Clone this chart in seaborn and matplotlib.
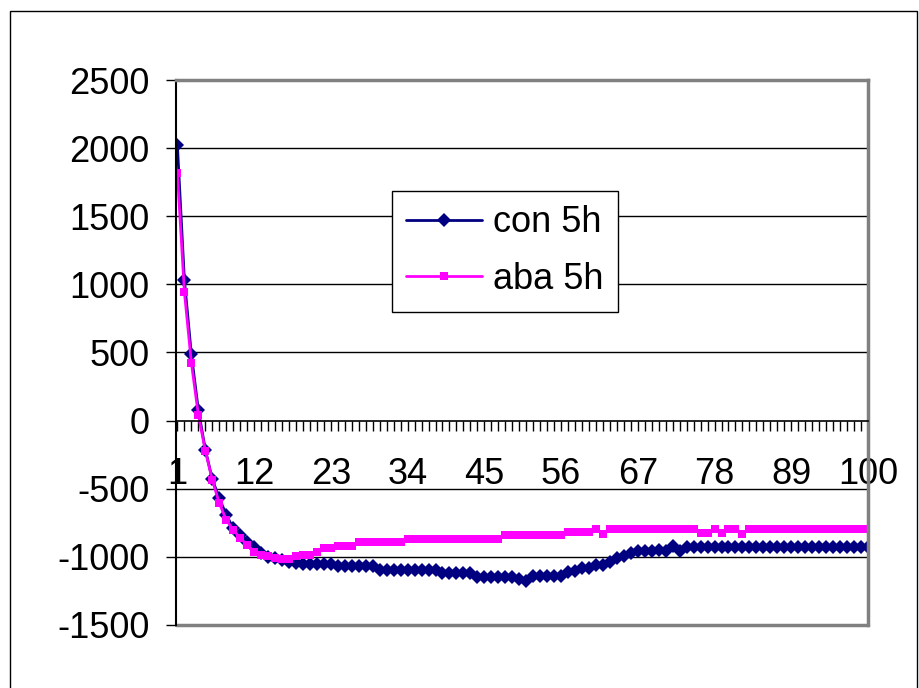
import matplotlib
matplotlib.use("Agg")
import matplotlib.pyplot as plt
from matplotlib.patches import Rectangle
from matplotlib.ticker import FixedLocator, MultipleLocator
import seaborn as sns
import pandas as pd

# ---- data ----
points = list(range(1, 101))
con_5h = [2020, 1035, 487, 80, -212, -430, -570, -690, -790, -840,
          -888, -925, -973, -998, -1010, -1022, -1040, -1047, -1050, -1050,
          -1050, -1050, -1050, -1068, -1068, -1068, -1068, -1068, -1068, -1098,
          -1098, -1098, -1098, -1098, -1098, -1098, -1098, -1098, -1115, -1115,
          -1115, -1115, -1115, -1145, -1145, -1145, -1145, -1145, -1145, -1165,
          -1178, -1140, -1140, -1140, -1140, -1140, -1110, -1100, -1085, -1085,
          -1060, -1060, -1035, -1010, -995, -975, -960, -955, -955, -952,
          -955, -920, -955, -925, -925, -925, -925, -925, -925, -925,
          -925, -925, -925, -925, -925, -925, -925, -925, -925, -925,
          -925, -925, -925, -925, -925, -925, -925, -925, -925, -925]
aba_5h = [1816, 947, 426, 44, -220, -435, -605, -728, -801, -863,
          -912, -961, -985, -990, -1005, -1015, -1012, -990, -987, -985,
          -961, -936, -936, -917, -917, -917, -892, -892, -892, -892,
          -892, -892, -892, -868, -868, -868, -868, -868, -868, -868,
          -868, -868, -868, -868, -868, -868, -868, -843, -843, -843,
          -843, -843, -843, -843, -843, -843, -819, -819, -819, -819,
          -792, -830, -792, -792, -792, -792, -792, -792, -792, -792,
          -792, -792, -792, -792, -792, -822, -822, -792, -822, -792,
          -792, -830, -792, -792, -792, -792, -792, -792, -792, -792,
          -792, -792, -792, -792, -792, -792, -792, -792, -792, -792]
series_names = ["con 5h", "aba 5h"]
x_labels = [1, 12, 23, 34, 45, 56, 67, 78, 89, 100]
y_ticks = [-1500, -1000, -500, 0, 500, 1000, 1500, 2000, 2500]

sns.set_style("white")
plt.rcParams["font.family"] = ["Liberation Sans", "DejaVu Sans"]
plt.rcParams["text.color"] = "black"
plt.rcParams["xtick.color"] = "black"
plt.rcParams["ytick.color"] = "black"

W, H = 919, 688
fig = plt.figure(figsize=(W / 100, H / 100), dpi=100)
fig.patch.set_facecolor("white")

# outer chart border
fig.patches.append(Rectangle((10 / W, -0.05), 907 / W, (H - 11) / H + 0.05,
                             transform=fig.transFigure, fill=False,
                             edgecolor="black", linewidth=1.0, clip_on=False))

L, R, T, B = 176, 868, 80, 625
ax = fig.add_axes([L / W, 1 - B / H, (R - L) / W, (B - T) / H])
ax.set_facecolor("white")

df = pd.DataFrame({"x": points, "con": con_5h, "aba": aba_5h})

sns.lineplot(data=df, x="x", y="con", ax=ax, color="#000080", linewidth=2.0,
             marker="D", markersize=7.5, markeredgewidth=0, label=series_names[0])
sns.lineplot(data=df, x="x", y="aba", ax=ax, color="#FF00FF", linewidth=2.0,
             marker="s", markersize=5.5, markeredgewidth=0, label=series_names[1])

ax.set_xlim(0.8, 100)
ax.set_ylim(-1500, 2500)
ax.set_xlabel("")
ax.set_ylabel("")

# grid lines
for yv in y_ticks:
    if yv not in (0, 2500, -1500):
        ax.axhline(yv, color="black", linewidth=1.0, zorder=0)

# plot-area border
for s in ("top", "right"):
    ax.spines[s].set_color("#808080")
    ax.spines[s].set_linewidth(2.5)
ax.spines["left"].set_color("black")
ax.spines["left"].set_linewidth(1.5)
ax.spines["bottom"].set_position(("data", 0))
ax.spines["bottom"].set_color("black")
ax.spines["bottom"].set_linewidth(1.2)
ax.axhline(-1500, color="#808080", linewidth=2.5, clip_on=False, zorder=0)

# ticks
ax.xaxis.set_major_locator(FixedLocator(x_labels))
ax.xaxis.set_minor_locator(MultipleLocator(1))
ax.set_xticklabels([str(v) for v in x_labels])
ax.tick_params(axis="x", which="both", direction="out", length=7, width=1,
               color="black", bottom=True)
ax.tick_params(axis="x", which="major", labelsize=26, pad=19)
ax.set_yticks(y_ticks)
ax.set_yticklabels([str(v) for v in y_ticks])
ax.tick_params(axis="y", direction="out", length=7, width=1, color="black",
               labelsize=26, pad=12, left=True)

leg = ax.legend(loc="upper left", bbox_to_anchor=(392 / W, 1 - 191 / H),
                bbox_transform=fig.transFigure, fontsize=26, frameon=True,
                fancybox=False, edgecolor="black", framealpha=1,
                handlelength=2.1, handletextpad=0.3, labelspacing=0.6,
                borderpad=0.4, borderaxespad=0)
leg.get_frame().set_linewidth(1.0)
for t in leg.get_texts():
    t.set_color("black")

fig.savefig("out.png", dpi=100)
